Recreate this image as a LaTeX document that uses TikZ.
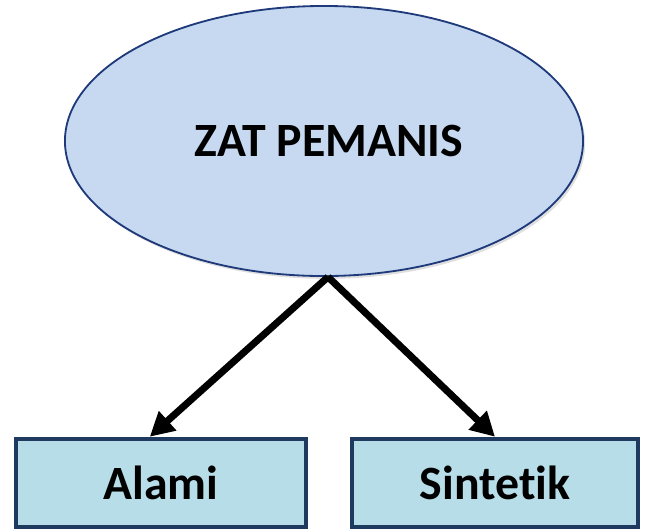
\documentclass[tikz,border=0pt]{standalone}
\usepackage{fontspec}
\setmainfont[Ligatures=NoCommon]{Carlito}
\usetikzlibrary{arrows.meta,shadows,shapes.geometric}
\definecolor{ellfill}{HTML}{C6D9F1}
\definecolor{ellline}{HTML}{1F3A7A}
\definecolor{boxfill}{HTML}{B7DDE8}
\definecolor{boxline}{HTML}{1F3A5F}
\tikzset{
  rootnode/.style={draw=ellline, fill=ellfill, ellipse, line width=1.3pt,
    minimum width=12.95cm, minimum height=6.75cm,
    drop shadow={shadow xshift=1.5pt, shadow yshift=-2pt, opacity=0.25},
    font=\fontsize{34}{40}\selectfont\bfseries},
  leafnode/.style={draw=boxline, fill=boxfill, rectangle, line width=3.2pt,
    minimum height=2.2cm, font=\fontsize{34}{40}\selectfont\bfseries},
  branch/.style={-{Triangle[length=0.6cm,width=0.62cm]}, line width=5pt}
}
\begin{document}
\begin{tikzpicture}[x=0.025cm, y=0.025cm]
        \useasboundingbox (0,0) rectangle (646,-529);

        % Ellipse at the top
        \node[rootnode] (zat) at (324,-141) {\hspace{0.24cm}\raisebox{-0.08cm}{ZAT PEMANIS}};

        % Box Alami
        \node[leafnode, minimum width=7.25cm] (alami) at (161,-483) {Alami};

        % Box Sintetik
        \node[leafnode, minimum width=7.15cm] (sintetik) at (495,-483) {Sintetik};

        % Arrows down to the boxes
        \draw[branch] ([xshift=0.1cm]zat.south) -- ([xshift=-0.28cm]alami.north);
        \draw[branch] ([xshift=0.1cm]zat.south) -- (sintetik.north);

        \end{tikzpicture}
\end{document}
